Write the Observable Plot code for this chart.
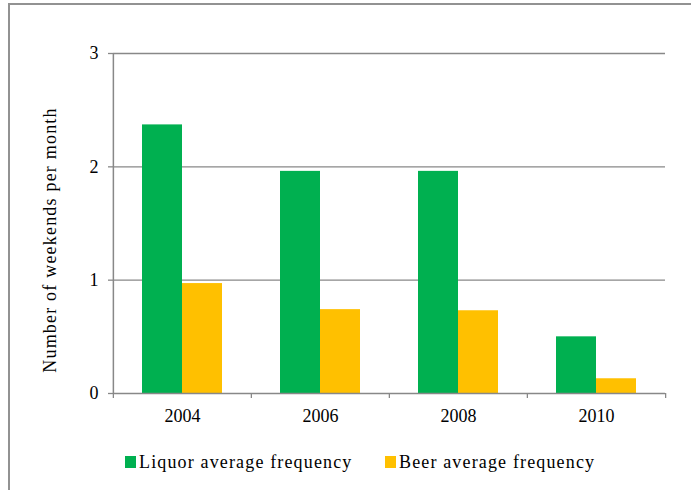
<!DOCTYPE html>
<html>
<head>
<meta charset="utf-8">
<script src="https://cdn.jsdelivr.net/npm/d3@7"></script>
<script src="https://cdn.jsdelivr.net/npm/@observablehq/plot@0.6"></script>
<style>
  html, body { margin: 0; padding: 0; background: #fff; }
  #wrap { position: relative; width: 691px; height: 490px; overflow: hidden; background: #fff;
          font-family: "Liberation Serif", "Times New Roman", serif; color: #000; }
  #border { position: absolute; left: 8px; top: 3px; width: 720px; height: 520px;
            border-left: 2px solid #929292; border-top: 2px solid #929292; }
  #chart { position: absolute; left: 0; top: 0; }
  #ylabel { position: absolute; left: 50px; top: 240px; white-space: nowrap; font-size: 18px;
            letter-spacing: 1.2px; transform: translate(-50%, -50%) rotate(-90deg); }
  .leg { position: absolute; top: 453px; height: 18px; line-height: 18px; font-size: 18px;
         letter-spacing: 1.15px; white-space: nowrap; display: flex; align-items: center; }
  .sw { display: inline-block; width: 11px; height: 12px; margin-right: 3px; }
</style>
</head>
<body>
<div id="wrap">
  <div id="border"></div>
  <div id="chart"></div>
  <div id="ylabel"></div>
</div>
<script>
const years = ["2004", "2006", "2008", "2010"];
const series = ["Liquor average frequency", "Beer average frequency"];
const liquor = [2.37, 1.96, 1.96, 0.50];
const beer = [0.97, 0.74, 0.73, 0.13];
const colors = ["#00B050", "#FFC000"];
const yTicks = [0, 1, 2, 3];
const yLabel = "Number of weekends per month";

const data = years.flatMap((yr, i) => [
  {year: yr, series: series[0], value: liquor[i]},
  {year: yr, series: series[1], value: beer[i]}
]);

const W = 691, H = 440, mL = 112, mR = 26, mT = 53, mB = 47;
const step = (W - mL - mR) / years.length;
const axisColor = "#888888";

const chart = Plot.plot({
  width: W, height: H,
  marginLeft: mL, marginRight: mR, marginTop: mT, marginBottom: mB,
  style: {fontFamily: "'Liberation Serif', 'Times New Roman', serif", fontSize: "18px", color: "#000", background: "transparent"},
  fx: {domain: years, padding: 0, label: null},
  x: {domain: series, paddingInner: 0, paddingOuter: 0.725, axis: null},
  y: {domain: [0, 3], label: null},
  color: {domain: series, range: colors},
  marks: [
    Plot.ruleY(yTicks.slice(1), {stroke: axisColor, strokeWidth: 1.3}),
    Plot.barY(data, {fx: "year", x: "series", y: "value", fill: "series"}),
    Plot.ruleY([0], {stroke: axisColor, strokeWidth: 1.5}),
    Plot.axisY({ticks: yTicks, tickFormat: d3.format("d"), tickSize: 5, tickPadding: 10, stroke: axisColor, strokeWidth: 1.3, label: null, fontSize: 18}),
    Plot.axisFx({anchor: "bottom", tickSize: 0, tickPadding: 16, label: null, fontSize: 18}),
    Plot.axisFx({anchor: "bottom", tickSize: 5, text: null, label: null, dx: -step / 2, stroke: axisColor, strokeWidth: 1.3}),
    Plot.axisFx({anchor: "bottom", ticks: [years[years.length - 1]], tickSize: 5, text: null, label: null, dx: step / 2, stroke: axisColor, strokeWidth: 1.3}),
    Plot.axisFx({anchor: "bottom", ticks: [years[0]], tickSize: -(H - mT - mB), text: null, label: null, dx: -step / 2, stroke: axisColor, strokeWidth: 1.5})
  ]
});
document.getElementById("chart").appendChild(chart);

document.getElementById("ylabel").textContent = yLabel;

const legendLeft = [125, 385];
const wrap = document.getElementById("wrap");
series.forEach((s, i) => {
  const item = document.createElement("div");
  item.className = "leg";
  item.style.left = legendLeft[i] + "px";
  const sw = document.createElement("span");
  sw.className = "sw";
  sw.style.background = colors[i];
  const tx = document.createElement("span");
  tx.textContent = s;
  item.appendChild(sw);
  item.appendChild(tx);
  wrap.appendChild(item);
});
</script>
</body>
</html>
